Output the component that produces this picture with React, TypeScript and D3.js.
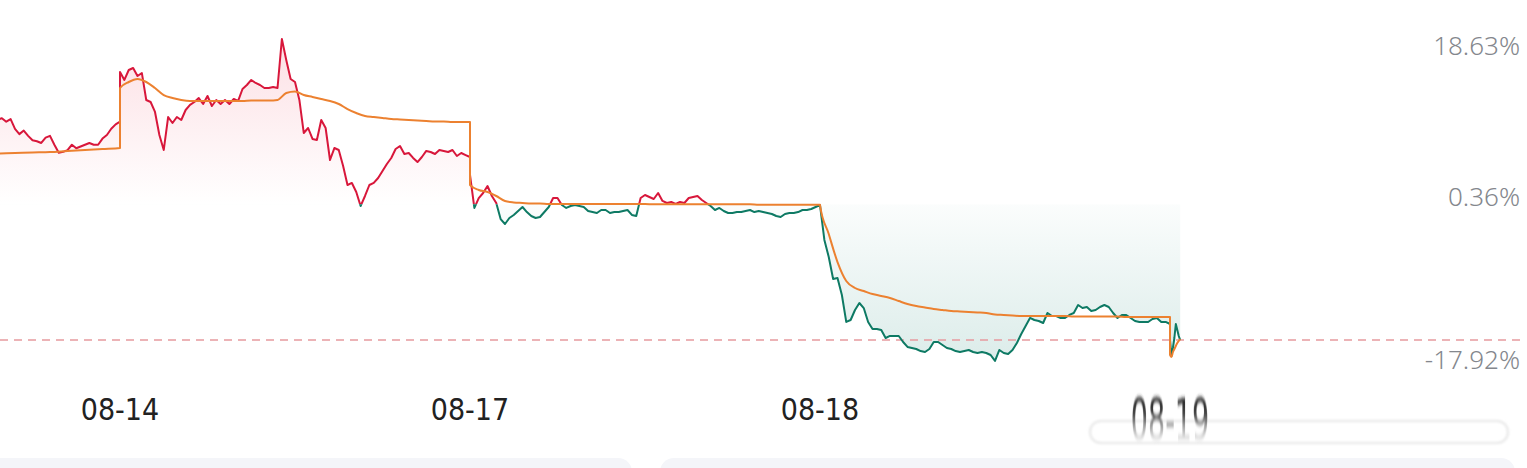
import { area, line, scaleLinear, curveLinear, curveMonotoneX } from 'd3';

// trading days, 240 minutes each
const days = ['08-13', '08-14', '08-17', '08-18', '08-19'];
const axisLabels = ['08-14', '08-17', '08-18', '08-19'];
const yTicks = [18.63, 0.36, -17.92];
const lastPct = -15.33;

// price change in %, per day; step = minutes between samples, from = first minute
const priceStep = [3, 3, 3, 3, 1];
const priceFrom = [156, 0, 0, 0, 0];
const price0813 = [9.5, 9.7, 9.3, 9.6, 8.5, 7.9, 8.3, 7.7, 7.2, 7.1, 6.9, 7.5, 7.7, 6.7, 5.8, 5.9, 6.1, 6.7, 6.3, 6.5, 6.7, 6.9, 6.7, 6.7, 7.4, 7.8, 8.5, 9.0, 9.3];
const price0814 = [14.91, 14.01, 15.13, 15.36, 14.46, 14.79, 11.75, 11.52, 10.4, 7.8, 6.11, 9.83, 9.15, 9.83, 9.49, 10.62, 11.19, 11.52, 11.97, 11.3, 12.2, 11.07, 11.75, 11.3, 11.75, 11.3, 11.86, 11.64, 12.99, 13.44, 14.01, 13.67, 13.44, 13.1, 13.1, 13.22, 13.1, 18.63, 16.26, 14.12, 13.78, 11.75, 8.03, 8.59, 7.35, 7.24, 9.49, 8.59, 4.98, 6.33, 6.11, 4.3, 2.16, 2.39, 1.37, -0.21, 0.92, 2.16, 2.39, 2.95, 3.74, 4.53, 5.21, 6.22, 6.56, 5.66, 5.77, 5.21, 4.75, 5.32, 6.0, 5.88, 5.66, 6.11, 6.0, 5.88, 6.11, 5.43, 5.77, 5.54, 5.32];
const price0817 = [3.29, -0.43, 0.69, 1.26, 2.05, 0.92, 0.13, -1.68, -2.24, -1.56, -1.22, -0.77, -0.32, -0.89, -1.34, -1.56, -1.45, -0.89, -0.32, 0.69, 0.69, -0.1, -0.43, -0.21, -0.1, -0.21, -0.32, -0.77, -0.89, -1.0, -0.66, -0.66, -1.0, -0.89, -0.89, -0.77, -0.66, -1.22, -1.34, 0.69, 1.03, 0.81, 0.58, 1.26, 0.36, 0.13, 0.24, 0.02, 0.24, 0.13, 0.69, 0.81, 0.92, 0.47, 0.13, -0.21, -0.66, -0.43, -0.77, -1.0, -1.0, -0.89, -0.89, -0.77, -0.66, -0.89, -0.77, -0.89, -1.0, -1.11, -1.34, -1.45, -1.11, -1.0, -1.0, -0.89, -0.66, -0.66, -0.55, -0.32, -0.1];
const price0818 = [-0.1, -4.04, -5.96, -8.44, -8.33, -10.25, -13.29, -13.07, -11.94, -11.15, -11.72, -13.29, -14.08, -14.08, -14.2, -15.1, -14.87, -14.87, -14.87, -15.55, -16.11, -16.23, -16.34, -16.57, -16.68, -16.34, -15.55, -15.55, -15.89, -16.23, -16.34, -16.57, -16.68, -16.57, -16.45, -16.68, -16.79, -16.68, -16.79, -17.02, -17.69, -16.45, -16.79, -16.9, -16.45, -15.66, -14.65, -13.75, -12.84, -13.07, -13.18, -13.41, -12.28, -12.62, -12.62, -12.84, -12.84, -12.5, -12.28, -11.38, -11.72, -11.6, -12.05, -11.94, -11.6, -11.38, -11.6, -12.28, -12.84, -12.5, -12.5, -12.84, -13.18, -13.29, -13.29, -13.29, -12.96, -12.84, -13.29, -13.29, -13.52];
const price0819 = [-15.33, -17.13, -16.23, -15.1, -13.52, -14.2, -14.87, -15.33];

// intraday average price in %
const avgStep = [12, 6, 6, 6, 1];
const avgFrom = [156, 0, 0, 0, 0];
const avg0813 = [5.71, 5.77, 5.83, 5.88, 6.0, 6.11, 6.22, 6.33];
const avg0814 = [13.1, 13.78, 14.12, 13.78, 13.1, 12.31, 11.97, 11.75, 11.64, 11.64, 11.64, 11.64, 11.64, 11.64, 11.64, 11.69, 11.69, 11.69, 11.75, 12.54, 12.71, 12.31, 12.09, 11.86, 11.64, 11.3, 10.73, 10.28, 9.94, 9.83, 9.72, 9.61, 9.55, 9.49, 9.44, 9.38, 9.32, 9.32, 9.27, 9.27, 9.27];
const avg0817 = [2.16, 1.6, 1.37, 0.92, 0.36, 0.19, 0.13, 0.07, 0.07, 0.02, 0.02, 0.02, 0.02, 0.02, 0.02, 0.02, 0.02, 0.02, 0.02, 0.02, 0.02, -0.02, -0.02, -0.02, -0.02, -0.02, -0.02, -0.02, -0.02, -0.02, -0.02, -0.02, -0.02, -0.06, -0.06, -0.06, -0.06, -0.06, -0.06, -0.06, -0.06];
const avg0818 = [-0.1, -3.37, -6.53, -8.67, -9.46, -9.8, -10.14, -10.36, -10.59, -10.93, -11.26, -11.49, -11.66, -11.83, -11.94, -12.05, -12.11, -12.17, -12.22, -12.28, -12.45, -12.5, -12.56, -12.62, -12.62, -12.62, -12.62, -12.62, -12.62, -12.67, -12.67, -12.67, -12.67, -12.67, -12.67, -12.73, -12.73, -12.73, -12.73, -12.73, -12.73];
const avg0819 = [-17.02, -17.24, -16.68, -16.34, -16.0, -15.66, -15.44, -15.21];

const priceDays = [price0813, price0814, price0817, price0818, price0819];
const avgDays = [avg0813, avg0814, avg0817, avg0818, avg0819];

type Pt = { t: number; v: number };

function build(series: number[][], step: number[], from: number[]): Pt[] {
  const out: Pt[] = [];
  series.forEach((vals, d) => {
    vals.forEach((v, i) => out.push({ t: d * 240 + from[d] + i * step[d], v }));
  });
  return out;
}

const width = 1527;
const height = 468;
const red = '#d8173b';
const green = '#0e7a64';
const orange = '#ec8130';

export default function App() {
  const price = build(priceDays, priceStep, priceFrom);
  const avg = build(avgDays, avgStep, avgFrom);

  const x = scaleLinear().domain([0, 960]).range([-230, 1170]);
  const y = scaleLinear().domain([-17.92, 18.63]).range([363, 39]);
  const y0 = y(0);

  const priceLine = line<Pt>().x(p => x(p.t)).y(p => y(p.v)).curve(curveLinear);
  const priceArea = area<Pt>().x(p => x(p.t)).y0(y0).y1(p => y(p.v));
  const avgLine = line<Pt>().x(p => x(p.t)).y(p => y(p.v)).curve(curveMonotoneX);

  const labelOffset = [16, 5, 6];

  return (
    <div style={{ position: 'fixed', left: 0, top: 0, background: '#fff' }}>
      <svg width={width} height={height} viewBox={`0 0 ${width} ${height}`} style={{ display: 'block' }}>
        <defs>
          <clipPath id="above">
            <rect x={0} y={0} width={width} height={y0} />
          </clipPath>
          <clipPath id="below">
            <rect x={0} y={y0} width={width} height={height - y0} />
          </clipPath>
          <linearGradient id="redFill" gradientUnits="userSpaceOnUse" x1="0" x2="0" y1={y(18.63)} y2={y0}>
            <stop offset="0%" stopColor="#f0506a" stopOpacity="0.18" />
            <stop offset="100%" stopColor="#f0506a" stopOpacity="0" />
          </linearGradient>
          <linearGradient id="greenFill" gradientUnits="userSpaceOnUse" x1="0" x2="0" y1={y0} y2={y(-17.92)}>
            <stop offset="0%" stopColor="#2e8f80" stopOpacity="0.02" />
            <stop offset="100%" stopColor="#2e8f80" stopOpacity="0.17" />
          </linearGradient>
          <linearGradient id="wm" x1="0" x2="0" y1="0" y2="1">
            <stop offset="0%" stopColor="#111" />
            <stop offset="40%" stopColor="#444" />
            <stop offset="100%" stopColor="#fff" stopOpacity="0.1" />
          </linearGradient>
          <filter id="vblur" x="-10%" y="-20%" width="120%" height="140%">
            <feGaussianBlur stdDeviation="0.6 2.2" />
          </filter>
          <filter id="soft">
            <feGaussianBlur stdDeviation="1.2" />
          </filter>
        </defs>

        <path d={priceArea(price) ?? ''} fill="url(#redFill)" clipPath="url(#above)" />
        <path d={priceArea(price) ?? ''} fill="url(#greenFill)" clipPath="url(#below)" />

        <line x1={0} x2={1520} y1={y(lastPct)} y2={y(lastPct)} stroke="#e69a9f" strokeWidth={1.4} strokeDasharray="8 6" />

        <path d={priceLine(price) ?? ''} fill="none" stroke={red} strokeWidth={2} strokeLinejoin="round" clipPath="url(#above)" />
        <path d={priceLine(price) ?? ''} fill="none" stroke={green} strokeWidth={2} strokeLinejoin="round" clipPath="url(#below)" />
        <path d={avgLine(avg) ?? ''} fill="none" stroke={orange} strokeWidth={2} strokeLinejoin="round" />

        {yTicks.map((t, i) => (
          <text
            key={t}
            x={1520}
            y={y(t) + labelOffset[i]}
            textAnchor="end"
            fontFamily="'Noto Sans', 'Open Sans', sans-serif"
            fontWeight={300}
            fontSize={26}
            fill="#84878d"
          >
            {`${t.toFixed(2)}%`}
          </text>
        ))}

        {axisLabels.slice(0, 3).map((lab, i) => (
          <text
            key={lab}
            x={x((i + 1) * 240)}
            y={420}
            textAnchor="middle"
            fontFamily="'DejaVu Sans Condensed', 'DejaVu Sans', sans-serif"
            fontStretch="condensed"
            fontSize={30}
            fill="#222"
          >
            {lab}
          </text>
        ))}

        {/* overlay artefact over the last date label */}
        <rect x={1090} y={421} width={418} height={22} rx={11} fill="none" stroke="#ebebeb" strokeWidth={2.5} filter="url(#soft)" />
        <g filter="url(#vblur)">
          <text
            transform={`translate(${x(4 * 240)},398) scale(1,1.9)`}
            y={22}
            textAnchor="middle"
            fontFamily="'DejaVu Sans Condensed', 'DejaVu Sans', sans-serif"
            fontStretch="condensed"
            fontSize={30}
            fill="url(#wm)"
          >
            {axisLabels[3]}
          </text>
        </g>

        <rect x={-20} y={458} width={652} height={40} rx={14} fill="#f4f5f9" />
        <rect x={660} y={458} width={855} height={40} rx={14} fill="#f4f5f9" />
      </svg>
    </div>
  );
}
